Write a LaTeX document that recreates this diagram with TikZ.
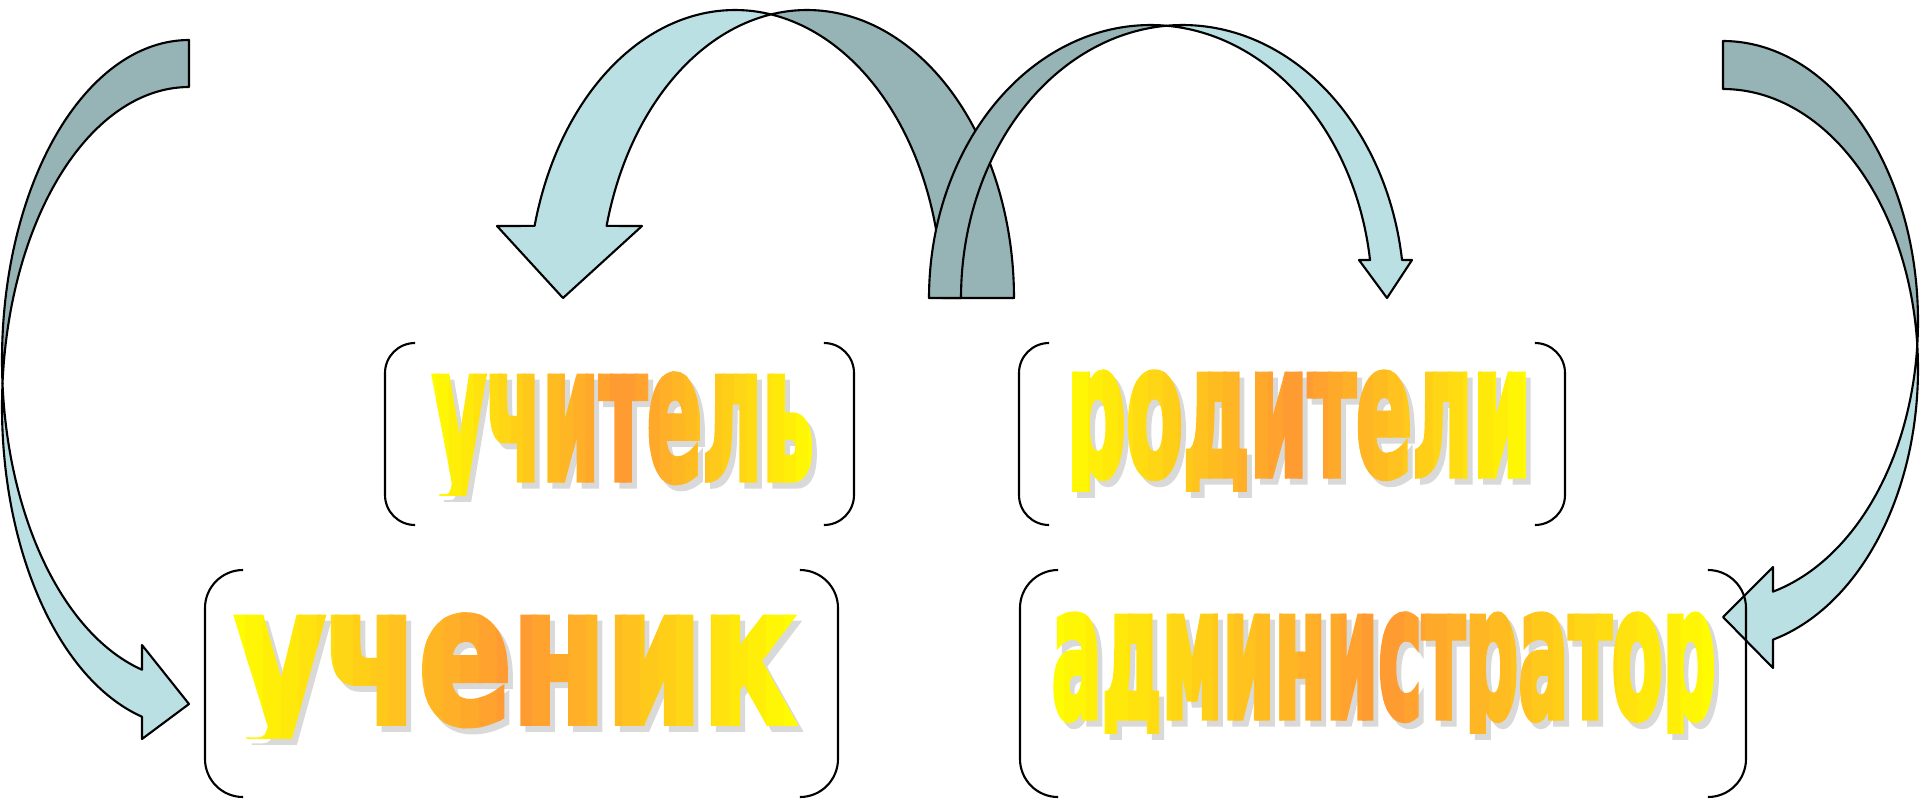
\documentclass[tikz,border=0pt]{standalone}
\usepackage{fontspec}
\usepackage{graphicx}
\newfontfamily\artfont[FakeBold=4]{DejaVu Sans}
\definecolor{frontblue}{HTML}{BBE0E3}
\definecolor{backgrey}{HTML}{96B3B5}
\definecolor{artyellow}{HTML}{FFFF00}
\definecolor{artorange}{HTML}{FF9933}
\definecolor{artshadow}{HTML}{D9D9D9}
\newlength{\pxu}
\setlength{\pxu}{0.01cm}
\newcommand{\artword}[3]{\resizebox{#1\pxu}{#2\pxu}{\artfont\bfseries #3}}
% word in thin vertical strips, yellow at both ends, orange in the middle;
% descenders cut short as in the reference
\newcommand{\wordstrips}[6]{%
  \begin{scope}
    \clip (0,0) rectangle (1920,{#3+22});
    \node[wordshadow] (#1-sh) at ({#2+5},{#3+6}) {\artword{#4}{#5}{#6}};
  \end{scope}
  \foreach \i in {0,...,31} {
    \pgfmathsetmacro{\mix}{100*abs((\i+0.5)/16-1)}
    \begin{scope}
      \clip ({#2-8+\i/32*(#4+16)},{#3-140}) rectangle ({#2-8+(\i+1.25)/32*(#4+16)},{#3+16});
      \node[word, text=artyellow!\mix!artorange] (#1-\i) at (#2,#3) {\artword{#4}{#5}{#6}};
    \end{scope}
  }}

\begin{document}
\begin{tikzpicture}[
  x=0.01cm, y=-0.01cm, samples=100,
  front/.style={fill=frontblue, draw=black, line width=0.6pt, line join=round},
  back/.style={fill=backgrey, draw=black, line width=0.6pt, line join=round},
  bracket/.style={draw=black, line width=0.6pt},
  word/.style={inner sep=0pt, anchor=base west},
  wordshadow/.style={word, text=artshadow},
]
\useasboundingbox (0,0) rectangle (1920,799);

% top left arrow: from the middle over to учитель
\draw[back] plot[domain=100:0] ({807+207*cos(\x)},{298-288*sin(\x)})
  -- plot[domain=0:80] ({735+207*cos(\x)},{298-288*sin(\x)}) -- cycle;
\draw[front] plot[domain=165.5:80] ({735+207*cos(\x)},{298-288*sin(\x)})
  -- plot[domain=100:165.5] ({807+207*cos(\x)},{298-288*sin(\x)})
  -- (642,226) -- (563,298) -- (497,226) -- cycle;

% top right arrow: from the middle over to родители
\draw[back] plot[domain=180:85.9] ({1150.6+221.6*cos(\x)},{298-273*sin(\x)})
  -- plot[domain=94.1:180] ({1182.6+221.6*cos(\x)},{298-273*sin(\x)}) -- cycle;
\draw[front] plot[domain=94.1:8] ({1182.6+221.6*cos(\x)},{298-273*sin(\x)})
  -- (1412,260) -- (1387,298) -- (1359,260)
  -- plot[domain=8:85.9] ({1150.6+221.6*cos(\x)},{298-273*sin(\x)}) -- cycle;

% left arrow: down to ученик
\draw[back] plot[domain=270:175.79] ({189+187*cos(\x)},{360+320*sin(\x)})
  -- plot[domain=184.21:270] ({189+187*cos(\x)},{407+320*sin(\x)}) -- cycle;
\draw[front] plot[domain=184.21:104.56] ({189+187*cos(\x)},{407+320*sin(\x)})
  -- (142,739) -- (189,704) -- (142,645)
  -- plot[domain=104.56:175.79] ({189+187*cos(\x)},{360+320*sin(\x)}) -- cycle;

% right arrow: down to администратор
\draw[back] plot[domain=-90:4.92] ({1723+195*cos(\x)},{321+280*sin(\x)})
  -- plot[domain=-4.92:-90] ({1723+195*cos(\x)},{369+280*sin(\x)}) -- cycle;
\draw[front] plot[domain=-4.92:75.14] ({1723+195*cos(\x)},{369+280*sin(\x)})
  -- (1773,668) -- (1723,617) -- (1773,567)
  -- plot[domain=75.14:4.92] ({1723+195*cos(\x)},{321+280*sin(\x)}) -- cycle;

% bracket pairs
\draw[bracket, rounded corners=0.3cm] (415,343) -- (385,343) -- (385,525) -- (415,525);
\draw[bracket, rounded corners=0.3cm] (824,343) -- (854,343) -- (854,525) -- (824,525);
\draw[bracket, rounded corners=0.3cm] (1049,343) -- (1019,343) -- (1019,525) -- (1049,525);
\draw[bracket, rounded corners=0.3cm] (1535,343) -- (1565,343) -- (1565,525) -- (1535,525);
\draw[bracket, rounded corners=0.38cm] (243,570) -- (205,570) -- (205,797) -- (243,797);
\draw[bracket, rounded corners=0.38cm] (800,570) -- (838,570) -- (838,797) -- (800,797);
\draw[bracket, rounded corners=0.38cm] (1058,570) -- (1020,570) -- (1020,797) -- (1058,797);
\draw[bracket, rounded corners=0.38cm] (1708,570) -- (1746,570) -- (1746,797) -- (1708,797);

% words
\wordstrips{teacher}{432}{479}{381}{104}{учитель}
\wordstrips{parents}{1066}{475}{464}{102}{родители}
\wordstrips{pupil}{235}{722}{559}{106}{ученик}
\wordstrips{admin}{1051}{717}{664}{102}{администратор}
\end{tikzpicture}
\end{document}
